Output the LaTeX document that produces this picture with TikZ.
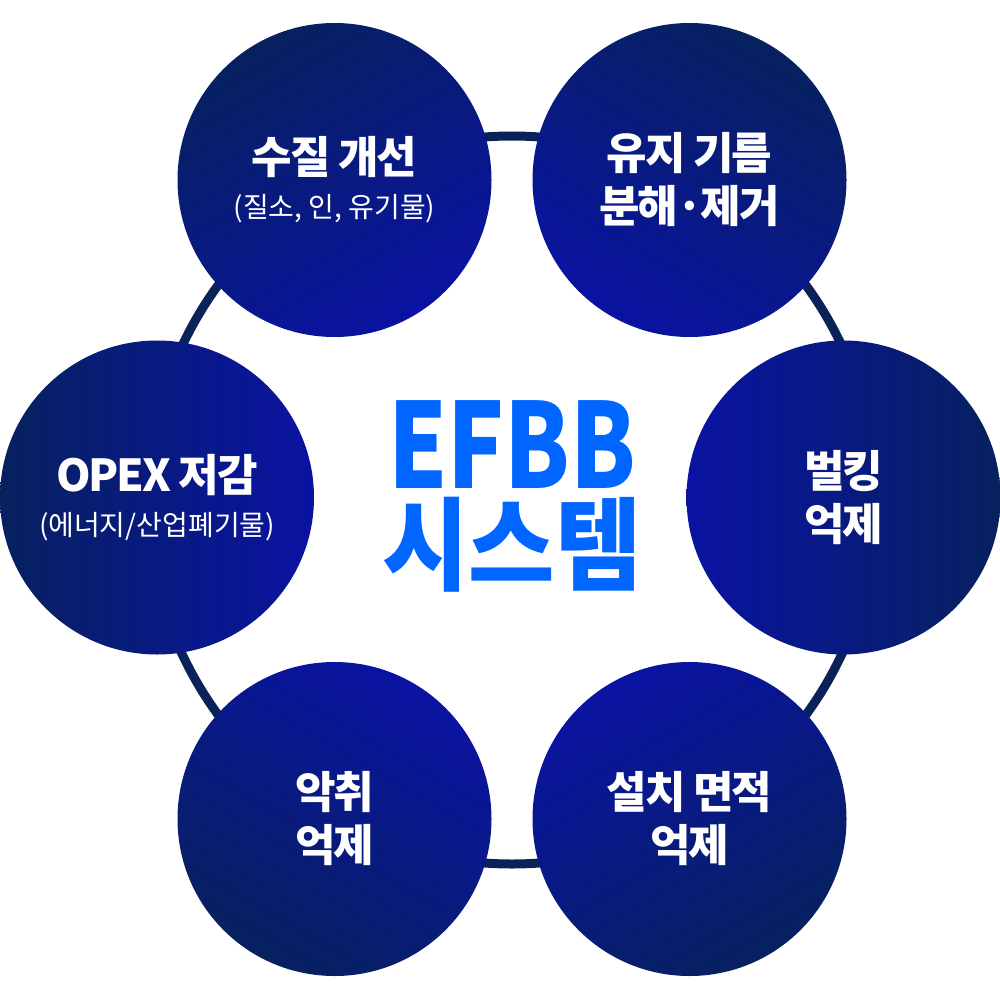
\documentclass[tikz,border=0pt]{standalone}
\usepackage{fontspec}
\setmainfont{Noto Sans CJK KR}
\definecolor{navy}{HTML}{07215F}
\definecolor{royal}{HTML}{0A13A2}
\definecolor{ringcol}{HTML}{0B2259}
\definecolor{efbb}{HTML}{0066FF}
\tikzset{
  bubble/.style={circle, inner sep=0pt, minimum size=157pt,
    top color=navy, bottom color=royal, shading angle=#1,
    text=white, align=center,
    font=\bfseries\fontsize{22}{26.5}\selectfont\addfontfeatures{LetterSpace=-5}},
  ringline/.style={draw=ringcol, line width=4.5pt},
  coretext/.style={text=efbb, align=center, inner sep=0pt,
    font=\bfseries\fontsize{59}{47}\selectfont}
}
\newcommand{\subline}[1]{{\mdseries\fontsize{14}{17}\selectfont\addfontfeatures{LetterSpace=0}#1}}
\begin{document}
\begin{tikzpicture}[x=0.5pt,y=-0.5pt]
\useasboundingbox (0,0) rectangle (1000,1000);
\fill[white] (0,0) rectangle (1000,1000);
\coordinate (hub) at (512,500);
\draw[ringline] (hub) circle[radius=364];
\node[bubble=30] (tl) at (334.5,180) {수질 개선\\[-4.5pt]\subline{(질소, 인, 유기물)}};
\node[bubble=-30] (tr) at (689.5,180) {유지 기름\\분해·제거};
\node[bubble=-90] (r) at (843.5,497.5) {벌킹\\억제};
\node[bubble=210] (br) at (689.5,819) {설치 면적\\억제};
\node[bubble=150] (bl) at (334.5,819) {악취\\억제};
\node[bubble=90] (l) at (157,497.5) {OPEX 저감\\[-4.5pt]\subline{(에너지/산업폐기물)}};
\node[coretext] (core) at (512,496.5) {{\addfontfeatures{FakeStretch=0.8}EFBB}\\{\fontsize{50.5}{47}\selectfont\addfontfeatures{FakeStretch=0.93}시스템}};
\end{tikzpicture}
\end{document}
